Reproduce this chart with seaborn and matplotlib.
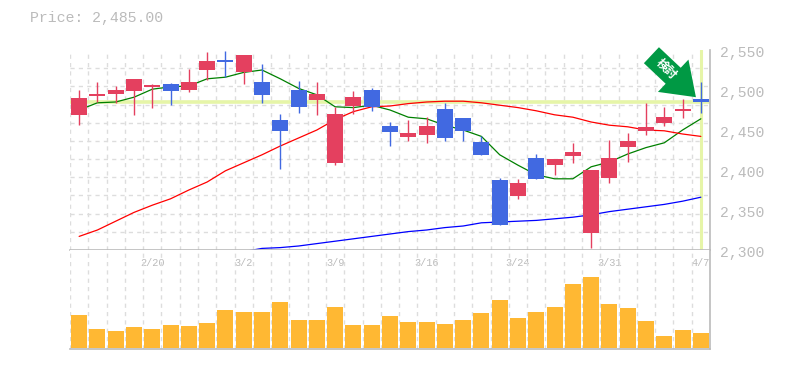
import matplotlib
matplotlib.use("Agg")
import numpy as np
import pandas as pd
import seaborn as sns
import matplotlib.pyplot as plt
from matplotlib.transforms import Affine2D

# candle values
opens = [2469, 2492, 2495, 2499, 2504, 2508, 2500, 2525, 2537, 2522, 2510, 2462, 2500, 2488, 2409, 2480, 2500, 2455,
         2441, 2444, 2476, 2465, 2435, 2388, 2368, 2415, 2406, 2418, 2321, 2390, 2429, 2449, 2459, 2474, 2489]
closes = [2490, 2495, 2500, 2514, 2506, 2499, 2510, 2536, 2535, 2544, 2494, 2449, 2479, 2495, 2470, 2491, 2479, 2448,
          2446, 2455, 2440, 2449, 2419, 2331, 2384, 2389, 2414, 2422, 2400, 2415, 2436, 2454, 2466, 2476, 2485]
highs = [2500, 2510, 2505, 2514, 2508, 2509, 2526, 2548, 2549, 2544, 2532, 2470, 2511, 2510, 2479, 2499, 2502, 2460,
         2462, 2466, 2484, 2465, 2442, 2390, 2389, 2420, 2414, 2434, 2400, 2437, 2446, 2484, 2479, 2489, 2510]
lows = [2456, 2485, 2484, 2469, 2478, 2481, 2498, 2512, 2516, 2508, 2484, 2401, 2471, 2469, 2406, 2470, 2474, 2430,
        2436, 2434, 2436, 2436, 2419, 2331, 2364, 2389, 2394, 2409, 2302, 2384, 2410, 2444, 2455, 2465, 2471]

ma_short = [2475, 2484, 2485, 2491, 2501, 2504, 2505, 2514, 2516, 2522, 2525, 2514, 2502, 2494, 2479, 2478, 2481, 2475,
            2466, 2464, 2456, 2450, 2442, 2419, 2406, 2394, 2389, 2389, 2404, 2410, 2420, 2428, 2434, 2450, 2464]
ma_mid = [2317, 2325, 2336, 2347, 2356, 2364, 2375, 2385, 2399, 2409, 2419, 2430, 2440, 2450, 2463, 2473, 2479, 2480,
          2483, 2485, 2486, 2486, 2484, 2481, 2478, 2474, 2469, 2466, 2460, 2456, 2454, 2450, 2449, 2445, 2442]
ma_long = [2298, 2302, 2303, 2305, 2308, 2311, 2314, 2317, 2320, 2323, 2325, 2328, 2330, 2334, 2335, 2336, 2337,
           2339, 2341, 2344, 2348, 2351, 2354, 2357, 2361, 2366]

volumes = [33, 19, 17, 21, 19, 23, 22, 25, 38, 36, 36, 46, 28, 28, 41, 23, 23, 32,
           26, 26, 24, 28, 35, 48, 30, 36, 41, 64, 71, 44, 40, 27, 12, 18, 15]

date_labels = ["2/20", "3/2", "3/9", "3/16", "3/24", "3/31", "4/7"]
date_index = [4, 9, 14, 19, 24, 29, 34]
price_ticks = [2300, 2350, 2400, 2450, 2500, 2550]

W, H = 785, 370
GREY = "#BBBBBB"
GRID = "#DDDDDD"
UP = "#E4405F"
DOWN = "#4169E1"
HILITE = "#E6F5A8"
MONO = "Liberation Mono"


def style_grid(ax):
    ax.set_xticks(np.arange(-0.5, 35, 1), minor=True)
    ax.grid(False)
    ax.grid(which="minor", axis="x", color=GRID, linestyle=(0, (3, 3)), linewidth=1)
    ax.tick_params(which="both", length=0)
    ax.set_axisbelow(True)
    ax.set_xlabel("")
    ax.set_ylabel("")


def main():
    sns.set_style("white")
    fig = plt.figure(figsize=(W / 100, H / 100), dpi=100)
    ax = fig.add_axes([70 / W, (H - 250) / H, 640 / W, 200 / H])
    ax_vol = fig.add_axes([70 / W, (H - 349) / H, 640 / W, 99 / H])

    days = np.arange(len(closes))

    # highlight of the last price
    ax.axhline(closes[-1], color=HILITE, linewidth=2.6, zorder=1)
    ax.axvline(days[-1], color=HILITE, linewidth=2.2, zorder=1)

    # moving averages
    sns.lineplot(x=days, y=ma_short, color="#008000", linewidth=0.9, ax=ax, zorder=2)
    sns.lineplot(x=days, y=ma_mid, color="#FF0000", linewidth=0.9, ax=ax, zorder=2)
    sns.lineplot(x=days[-len(ma_long):], y=ma_long, color="#0000FF", linewidth=0.9, ax=ax, zorder=2)

    # candles
    df = pd.DataFrame({"o": opens, "c": closes, "h": highs, "l": lows}, index=days)
    colors = [UP if row.c >= row.o else DOWN for row in df.itertuples()]
    ax.vlines(days, df["l"], df["h"], colors=colors, linewidth=1.0, zorder=3)
    ax.bar(days, (df["c"] - df["o"]).abs(), bottom=df[["o", "c"]].min(axis=1), width=0.875, color=colors,
           linewidth=0, zorder=4)

    ax.set_xlim(-0.5, 34.5)
    ax.set_ylim(2300, 2550)
    ax.set_xticks([])
    ax.set_yticks(np.linspace(2300, 2550, 12), minor=True)
    style_grid(ax)
    ax.grid(which="minor", axis="y", color=GRID, linestyle=(0, (3, 3)), linewidth=1)
    ax.yaxis.tick_right()
    ax.set_yticks(price_ticks)
    ax.set_yticklabels([f"{p:,}" for p in price_ticks], family=MONO, fontsize=10.6, color=GREY, va="center")
    ax.tick_params(axis="y", which="major", pad=7)
    for label in ax.get_yticklabels():
        label.set_transform(label.get_transform() + Affine2D().translate(0, -2.5))

    # signal arrow, its tip just above the last candle
    tip = (days[-1] - 0.27, highs[-1] - 19)
    ax.annotate("", xy=tip, xycoords="data", xytext=(-44.5, 42), textcoords="offset pixels",
                arrowprops=dict(width=15.8, headwidth=32, headlength=22.5, shrink=0, facecolor="#009944",
                                edgecolor="none", linewidth=0), zorder=6, annotation_clip=False)
    ax.annotate("検討", xy=tip, xycoords="data", xytext=(-29.5, 28.5), textcoords="offset pixels",
                color="white", fontsize=8.5, fontweight="bold", family=["Noto Sans CJK JP", "DejaVu Sans"],
                rotation=-45, ha="center", va="center", rotation_mode="anchor", zorder=7)

    # volume
    sns.barplot(x=days, y=volumes, color="#FFB833", width=0.875, saturation=1, linewidth=0, ax=ax_vol, zorder=3)
    ax_vol.set_xlim(-0.5, 34.5)
    ax_vol.set_ylim(-1, 98)
    ax_vol.set_yticks([])
    style_grid(ax_vol)
    ax_vol.set_xticks(date_index)
    ax_vol.set_xticklabels(date_labels, family=MONO, fontsize=7.4, color=GREY)
    ax_vol.tick_params(axis="x", which="major", top=False, bottom=False, labeltop=True, labelbottom=False, pad=-13)

    for a in (ax, ax_vol):
        for name in ("left", "top"):
            a.spines[name].set_visible(False)
        a.spines["right"].set_color(GREY)
        a.spines["right"].set_linewidth(1.2)
        a.spines["bottom"].set_color(GREY)
        a.spines["bottom"].set_linewidth(1.2)

    fig.text(30 / W, 1 - 18 / H, "Price: 2,485.00", family=MONO, fontsize=10.7, color=GREY, va="center", ha="left")

    fig.savefig("out.png", dpi=100, facecolor="white")


if __name__ == "__main__":
    main()
